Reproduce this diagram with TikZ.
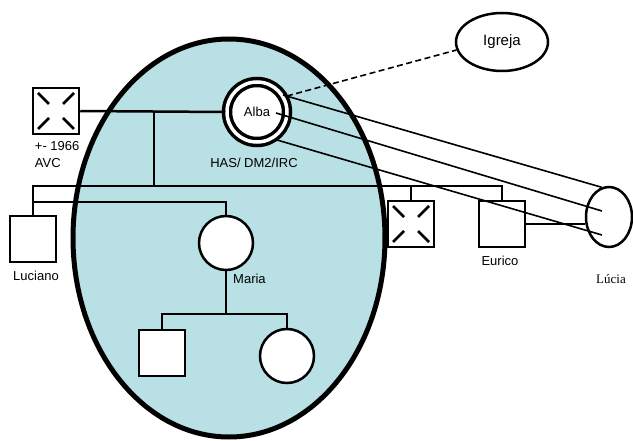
\documentclass[tikz,border=0pt]{standalone}
\usepackage{fontspec}
\setmainfont{Liberation Sans}
\newfontfamily\timesfont{Liberation Serif}
\usetikzlibrary{shapes.geometric}
\definecolor{homeblue}{RGB}{185,224,228}

\tikzset{
  male/.style={draw, line width=2.5pt, fill=white, minimum size=46pt, inner sep=0pt},
  female/.style={draw, circle, line width=2.5pt, fill=white, minimum size=54pt, inner sep=0pt},
  deceased/.style={male, path picture={
      \foreach \sx/\sy in {1/1,1/-1,-1/1,-1/-1}
        \draw[line width=2.5pt] ([xshift=\sx*18pt,yshift=\sy*18pt]path picture bounding box.center)
          -- ([xshift=\sx*7pt,yshift=\sy*7pt]path picture bounding box.center);}},
  index/.style={female, line width=3.5pt, double=white, double distance=3.5pt, minimum size=60pt},
  household/.style={draw, ellipse, line width=5pt, fill=homeblue, minimum width=312pt, minimum height=398pt},
  tag/.style={inner sep=0pt},
  link/.style={line width=2.5pt},
  tie/.style={line width=1.6pt},
}

\begin{document}
\begin{tikzpicture}[x=1pt, y=-1pt, font=\fontsize{13}{16}\selectfont]
    \useasboundingbox (0,0) rectangle (633,441);

    % household
    \node[household] (home) at (229,238) {};

    % parents
    \node[deceased] (father) at (56,111) {};
    \node[index] (alba) at (257,112) {Alba};
    \node[tag, align=left, anchor=north west, font=\fontsize{13}{16.5}\selectfont] (fatherinfo) at ([shift={(3,6)}]father.south west) {+- 1966\\AVC};
    \node[tag] (albainfo) at ([shift={(-3,19)}]alba.south) {HAS/ DM2/IRC};

    % children
    \node[male] (luciano) at (33,239) {};
    \node[female] (maria) at (226,243) {};
    \node[deceased] (deadson) at (411,224) {};
    \node[male] (eurico) at (502,224) {};
    \node[tag] (lucianoname) at ([shift={(3,13)}]luciano.south) {Luciano};
    \node[tag, anchor=west] (marianame) at ([shift={(7,8)}]maria.south) {Maria};
    \node[tag] (euriconame) at ([shift={(-2,13)}]eurico.south) {Eurico};

    % grandchildren
    \node[male] (grandson) at (162,353) {};
    \node[female] (granddaughter) at (287,356) {};

    % others
    \node[draw, ellipse, line width=2.5pt, fill=white, minimum width=46pt, minimum height=60pt, inner sep=0pt] (lucia) at (609,217) {};
    \node[tag, font=\timesfont\fontsize{13}{16}\selectfont] (lucianame) at ([shift={(2,31)}]lucia.south) {Lúcia};
    \node[draw, ellipse, line width=2.5pt, fill=white, minimum width=92pt, minimum height=58pt, inner sep=0pt, font=\fontsize{15}{18}\selectfont] (igreja) at (502,42) {Igreja};

    % pedigree lines
    \coordinate (couple) at (154,111);
    \coordinate (sibs) at (154,186);
    \coordinate (sibs2) at (33,202);
    \coordinate (kids) at (226,314);
    \draw[link] (father.east) -- (alba.west);
    \draw[link] (couple) -- (sibs);
    \draw[link] (luciano.north) -- (luciano.north |- sibs) -- (eurico.north |- sibs) -- (eurico.north);
    \draw[link] (deadson.north) -- (deadson.north |- sibs);
    \draw[link] (luciano.north |- sibs2) -- (maria.north |- sibs2) -- (maria.north);
    \draw[link] (maria.south) -- (kids);
    \draw[link] (grandson.north) -- (grandson.north |- kids) -- (granddaughter.north |- kids) -- (granddaughter.north);
    \draw[link] (eurico.east) -- (eurico.east -| lucia.west);

    % ties
    \draw[tie] ([shift={(26,-17)}]alba.center) -- (lucia.104);
    \draw[tie] ([shift={(19,1)}]alba.center) -- ([shift={(-7,-6)}]lucia.center);
    \draw[tie] ([shift={(20,28)}]alba.center) -- ([shift={(-7,18)}]lucia.center);
    \draw[line width=1.6pt, dash pattern=on 6pt off 3.5pt] ([shift={(30,-16)}]alba.center) -- (igreja.190);
\end{tikzpicture}
\end{document}
